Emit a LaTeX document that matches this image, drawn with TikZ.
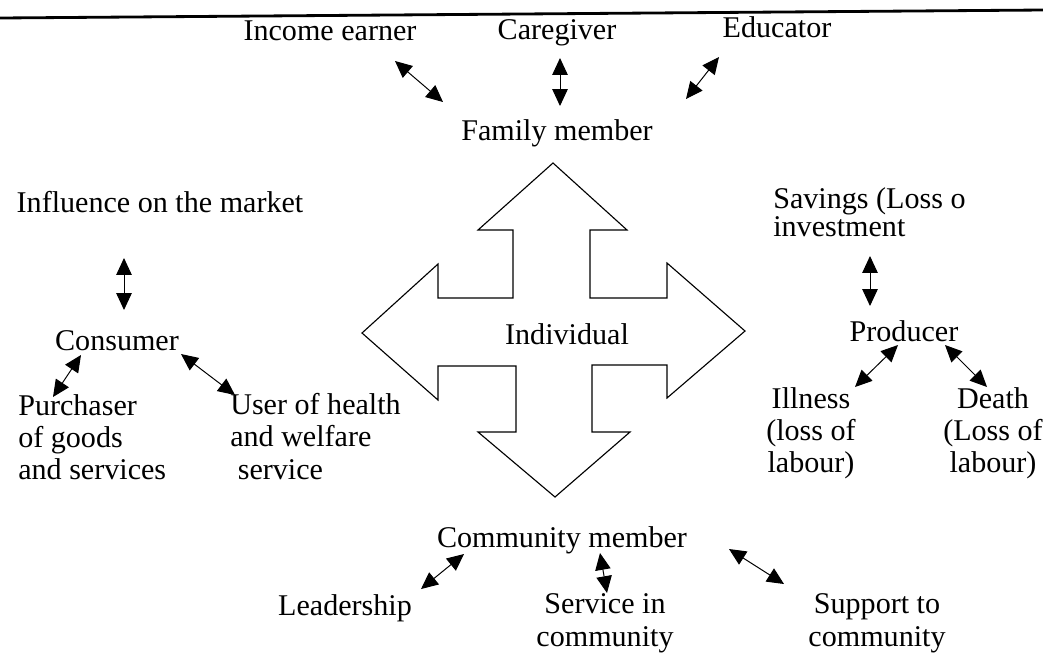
\documentclass[tikz,border=0pt]{standalone}
\usepackage{fontspec}
\setmainfont{Liberation Serif}
\usetikzlibrary{arrows.meta}

\begin{document}
\begin{tikzpicture}[
    x=0.025cm, y=-0.025cm,
    lbl/.style={inner sep=0pt, font=\fontsize{21.4}{23}\selectfont,
        execute at begin node=\strut, execute at end node=\strut},
    lblL/.style={lbl, align=left, anchor=west},
    lblC/.style={lbl, align=center},
    dblarrow/.style={{Triangle[length=12pt, width=11pt]}-{Triangle[length=12pt, width=11pt]}, line width=0.7pt},
    crossarrow/.style={draw, line width=0.8pt, line join=miter},
]
\useasboundingbox (0,0) rectangle (1043,654);

% Rule at the top
\draw[line width=2pt] (0,18) -- (1043,10);

% Top: family member
\node[lbl] (income) at (330,34) {Income earner};
\node[lbl] (care) at (557,33) {Caregiver};
\node[lbl] (edu) at (777,31) {Educator};
\node[lbl] (family) at (557,134) {Family member};
\coordinate (ia) at (395,61);  \coordinate (ib) at (443,102);
\coordinate (ca) at (560,58);  \coordinate (cb) at (560,106);
\coordinate (ea) at (719,57);  \coordinate (eb) at (686,99);
\draw[dblarrow] (ia) -- (ib);
\draw[dblarrow] (ca) -- (cb);
\draw[dblarrow] (ea) -- (eb);

% Centre: the cross of arrows
\draw[crossarrow] (553,163) -- (627,230) -- (590,230) -- (590,298) -- (667,298) -- (667,263)
    -- (745,331) -- (667,398) -- (667,365) -- (592,365) -- (592,432) -- (630,432)
    -- (555,497) -- (478,432) -- (516,432) -- (516,366) -- (438,366) -- (438,400)
    -- (362,333) -- (438,264) -- (438,298) -- (513,298) -- (513,230) -- (478,230) -- cycle;
\node[lbl] (indiv) at (567,338) {Individual};

% Left: consumer
\node[lbl] (market) at (160,206) {Influence on the market};
\node[lbl] (consumer) at (117,344) {Consumer};
\node[lblL] (purchaser) at (18,442) {Purchaser\\of goods\\and services};
\node[lblL] (user) at (230,441) {User of health\\and welfare\\\ service};
\coordinate (ma) at (124,258); \coordinate (mb) at (124,310);
\coordinate (pa) at (81,355);  \coordinate (pb) at (53,397);
\coordinate (ua) at (181,354); \coordinate (ub) at (235,395);
\draw[dblarrow] (ma) -- (mb);
\draw[dblarrow] (pa) -- (pb);
\draw[dblarrow] (ua) -- (ub);

% Right: producer
\node[lblL] (savings) at (773,217) {Savings (Loss o\\[-3pt]investment};
\node[lbl] (producer) at (904,335) {Producer};
\node[lblC] (illness) at (811,435) {Illness\\(loss of\\labour)};
\node[lblC] (death) at (993,435) {Death\\(Loss of\\labour)};
\coordinate (sa) at (870,256); \coordinate (sb) at (870,306);
\coordinate (la) at (898,345); \coordinate (lb) at (855,387);
\coordinate (da) at (945,345); \coordinate (db) at (987,387);
\draw[dblarrow] (sa) -- (sb);
\draw[dblarrow] (la) -- (lb);
\draw[dblarrow] (da) -- (db);

% Bottom: community member
\node[lbl] (community) at (562,541) {Community member};
\node[lbl] (leader) at (345,609) {Leadership};
\node[lblC] (service) at (605,625) {Service in\\community};
\node[lblC] (support) at (877,625) {Support to\\community};
\coordinate (ra) at (464,554); \coordinate (rb) at (421,589);
\coordinate (va) at (600,553); \coordinate (vb) at (607,593);
\coordinate (ta) at (729,549); \coordinate (tb) at (784,584);
\draw[dblarrow] (ra) -- (rb);
\draw[dblarrow] (va) -- (vb);
\draw[dblarrow] (ta) -- (tb);

\end{tikzpicture}
\end{document}
